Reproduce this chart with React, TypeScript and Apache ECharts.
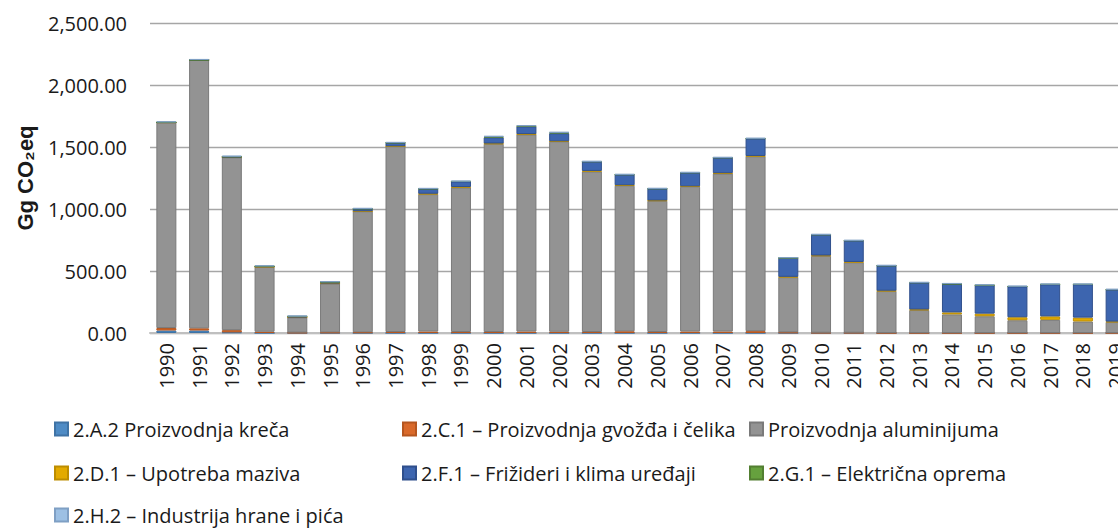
import React, { useEffect, useRef } from "react";
import * as echarts from "echarts";

const years = [
  "1990", "1991", "1992", "1993", "1994", "1995", "1996", "1997", "1998", "1999",
  "2000", "2001", "2002", "2003", "2004", "2005", "2006", "2007", "2008", "2009",
  "2010", "2011", "2012", "2013", "2014", "2015", "2016", "2017", "2018", "2019",
];

const limeA2 = [20, 20, 5, 0, 0, 0, 0, 0, 0, 0, 0, 0, 0, 0, 0, 0, 0, 0, 0, 0, 0, 0, 0, 0, 0, 0, 0, 0, 0, 0];
const ironC1 = [20, 18, 18, 10, 3, 5, 6, 8, 12, 8, 8, 12, 10, 8, 14, 8, 12, 12, 15, 5, 2, 2, 0, 0, 0, 0, 0, 0, 0, 0];
const aluminium = [1657, 2164, 1394, 523, 123, 394, 976, 1498, 1108, 1166, 1517, 1589, 1533, 1295, 1174, 1058, 1168, 1274, 1410, 445, 620, 568, 338, 185, 150, 135, 103, 106, 93, 88];
const lubricD1 = [0, 0, 0, 0, 0, 0, 0, 0, 3, 3, 3, 3, 3, 4, 4, 3, 3, 3, 3, 3, 3, 3, 3, 5, 16, 21, 24, 28, 31, 4];
const fridgeF1 = [2, 0, 5, 5, 8, 12, 20, 28, 40, 45, 50, 62, 65, 75, 85, 95, 110, 125, 140, 152, 168, 172, 202, 216, 230, 229, 248, 258, 268, 258];
const electricG1 = [0, 0, 0, 0, 0, 0, 0, 0, 0, 0, 5, 3, 5, 0, 0, 0, 0, 0, 0, 0, 0, 0, 0, 0, 0, 0, 0, 0, 0, 0];
const foodH2 = [8, 8, 8, 8, 6, 6, 6, 6, 6, 6, 6, 6, 5, 5, 5, 5, 5, 5, 5, 5, 5, 5, 5, 5, 7, 7, 6, 6, 6, 5];

const yTicks = [0, 500, 1000, 1500, 2000, 2500];

const seriesDefs = [
  { name: "2.A.2 Proizvodnja kreča", data: limeA2, color: "#4E8BC5", border: "#3F73A5" },
  { name: "2.C.1 – Proizvodnja gvožđa i čelika", data: ironC1, color: "#D9692A", border: "#B5561F" },
  { name: "Proizvodnja aluminijuma", data: aluminium, color: "#939393", border: "#7A7A7A" },
  { name: "2.D.1 – Upotreba maziva", data: lubricD1, color: "#E3AA00", border: "#BD8D00" },
  { name: "2.F.1 – Frižideri i klima uređaji", data: fridgeF1, color: "#3D65AF", border: "#2F4F8C" },
  { name: "2.G.1 – Električna oprema", data: electricG1, color: "#66A13E", border: "#527F31" },
  { name: "2.H.2 – Industrija hrane i pića", data: foodH2, color: "#9DC0E4", border: "#7F9FC4" },
];

const legendPos = [
  { left: 54, top: 419 },
  { left: 402, top: 419 },
  { left: 749, top: 419 },
  { left: 54, top: 463 },
  { left: 402, top: 463 },
  { left: 749, top: 463 },
  { left: 54, top: 505 },
];

const FONT = "'Open Sans', 'Noto Sans', sans-serif";

export default function App() {
  const ref = useRef<HTMLDivElement>(null);

  useEffect(() => {
    if (!ref.current) return;
    const chart = echarts.init(ref.current, null, { renderer: "svg" });
    const fmt = (v: number) =>
      v.toLocaleString("en-US", { minimumFractionDigits: 2, maximumFractionDigits: 2 });
    chart.setOption({
      animation: false,
      backgroundColor: "#ffffff",
      textStyle: { fontFamily: FONT },
      grid: { left: 150, right: 8, top: 23, bottom: 195, containLabel: false },
      legend: seriesDefs.map((s, i) => ({
        data: [s.name],
        left: legendPos[i].left,
        top: legendPos[i].top,
        padding: 0,
        itemWidth: 13,
        itemHeight: 13,
        icon: "rect",
        selectedMode: false,
        textStyle: { fontFamily: FONT, fontSize: 20, color: "#1a1a1a", lineHeight: 20 },
      })),
      xAxis: {
        type: "category",
        data: years,
        axisTick: { show: false },
        axisLine: { lineStyle: { color: "#BFBFBF", width: 2 } },
        axisLabel: {
          rotate: 90,
          margin: 10,
          interval: 0,
          fontFamily: FONT,
          fontSize: 20,
          color: "#1a1a1a",
        },
      },
      yAxis: {
        type: "value",
        min: yTicks[0],
        max: yTicks[yTicks.length - 1],
        interval: 500,
        name: "Gg CO₂eq",
        nameLocation: "middle",
        nameRotate: 90,
        nameGap: 114,
        nameTextStyle: {
          fontFamily: "'Liberation Sans', Arial, sans-serif",
          fontWeight: "bold",
          fontSize: 22,
          color: "#1a1a1a",
        },
        axisLine: { show: false },
        axisTick: { show: false },
        splitLine: { lineStyle: { color: "#A6A6A6", width: 1.3 } },
        axisLabel: {
          formatter: (v: number) => fmt(v),
          margin: 23,
          fontFamily: FONT,
          fontSize: 20,
          color: "#1a1a1a",
        },
      },
      series: seriesDefs.map((s) => ({
        name: s.name,
        type: "bar",
        stack: "total",
        barWidth: 20,
        data: s.data,
        itemStyle: { color: s.color, borderColor: s.border, borderWidth: 1 },
      })),
    });
    return () => chart.dispose();
  }, []);

  return (
    <div
      style={{
        position: "fixed",
        left: 0,
        top: 0,
        width: 1118,
        height: 528,
        overflow: "hidden",
        background: "#fff",
      }}
    >
      <div ref={ref} style={{ width: 1140, height: 528 }} />
    </div>
  );
}
